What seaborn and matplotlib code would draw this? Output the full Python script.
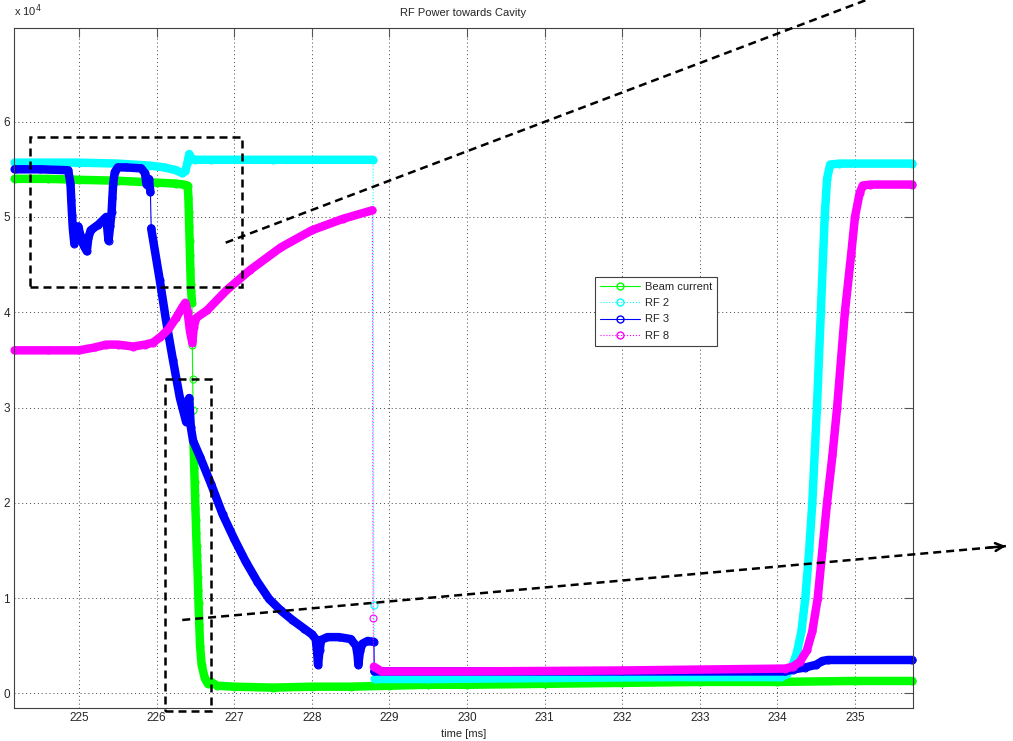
import numpy as np
import pandas as pd
import matplotlib
matplotlib.use("Agg")
import matplotlib.pyplot as plt
from matplotlib.lines import Line2D
from matplotlib.patches import Rectangle
import seaborn as sns

# ---- measured traces: time [ms], power [x 10^4] ----
beam_t = [224.17, 224.6, 225.0, 225.5, 226.0, 226.25, 226.35, 226.40, 226.41, 226.415,
          226.42, 226.425, 226.43, 226.435, 226.44, 226.455, 226.46, 226.465, 226.47,
          226.475, 226.48, 226.485, 226.49, 226.495, 226.50, 226.505, 226.51, 226.515,
          226.52, 226.525, 226.53, 226.535, 226.54, 226.55, 226.56, 226.58, 226.62,
          226.66, 226.70, 226.78, 227.0, 227.5, 228.0, 228.5, 229.0, 229.5, 230.0,
          231.0, 232.0, 233.0, 234.0, 235.0, 235.74]
beam_v = [5.40, 5.40, 5.39, 5.38, 5.36, 5.35, 5.34, 5.33, 5.20, 5.05,
          4.90, 4.75, 4.60, 4.45, 4.30, 4.10, 3.66, 3.30, 2.97,
          2.63, 2.50, 2.36, 2.22, 2.08, 1.95, 1.82, 1.68, 1.55,
          1.45, 1.35, 1.22, 1.08, 0.95, 0.72, 0.50, 0.30, 0.16,
          0.10, 0.12, 0.08, 0.07, 0.06, 0.07, 0.07, 0.08, 0.09, 0.09,
          0.10, 0.11, 0.12, 0.12, 0.13, 0.13]

rf2_t = [224.17, 225.0, 225.5, 225.9, 226.1, 226.25, 226.33, 226.37, 226.40, 226.42,
         226.44, 226.5, 226.7, 227.5, 228.79, 228.80, 228.81, 229.5, 231.0, 232.5,
         234.05, 234.12, 234.19, 234.25, 234.31, 234.36, 234.41, 234.45, 234.51,
         234.56, 234.61, 234.64, 234.68, 234.8, 235.74]
rf2_v = [5.57, 5.57, 5.56, 5.54, 5.52, 5.49, 5.46, 5.48, 5.58, 5.66,
         5.62, 5.60, 5.60, 5.60, 5.60, 0.93, 0.15, 0.15, 0.16, 0.17,
         0.17, 0.20, 0.28, 0.42, 0.65, 1.00, 1.50, 2.00, 3.00,
         4.00, 5.00, 5.40, 5.55, 5.56, 5.56]

rf3_t = [224.17, 224.5, 224.86, 224.89, 224.90, 224.91, 224.92, 224.94, 224.96, 224.99,
         225.02, 225.06, 225.10, 225.12, 225.15, 225.25, 225.35, 225.38, 225.40, 225.42,
         225.43, 225.44, 225.46, 225.50, 225.6, 225.8, 225.85, 225.87, 225.90, 225.92,
         225.93, 226.04, 226.12, 226.21, 226.30, 226.38, 226.40, 226.42, 226.44, 226.47,
         226.56, 226.70, 226.85, 227.0, 227.15, 227.30, 227.45, 227.60, 227.75, 227.90,
         228.0, 228.05, 228.07, 228.08, 228.10, 228.12, 228.2, 228.35, 228.50, 228.57,
         228.59, 228.60, 228.62, 228.65, 228.72, 228.80, 228.805, 230.0, 232.0, 234.1,
         234.2, 234.35, 234.5, 234.58, 234.65, 235.74]
rf3_v = [5.50, 5.50, 5.49, 5.35, 5.18, 5.02, 4.88, 4.72, 4.80, 4.90,
         4.80, 4.70, 4.64, 4.78, 4.86, 4.92, 5.00, 4.75, 4.90, 5.05,
         5.20, 5.35, 5.47, 5.52, 5.52, 5.51, 5.46, 5.34, 5.40, 5.26,
         4.88, 4.34, 3.92, 3.50, 3.10, 2.85, 3.05, 3.10, 2.80, 2.65,
         2.48, 2.20, 1.88, 1.62, 1.38, 1.17, 0.99, 0.87, 0.77, 0.68,
         0.62, 0.57, 0.42, 0.30, 0.45, 0.56, 0.59, 0.59, 0.57, 0.50,
         0.40, 0.30, 0.44, 0.52, 0.55, 0.54, 0.23, 0.23, 0.23, 0.23,
         0.25, 0.27, 0.30, 0.34, 0.35, 0.35]

rf8_t = [224.17, 224.6, 225.0, 225.2, 225.35, 225.5, 225.7, 225.85, 225.95, 226.05,
         226.15, 226.25, 226.33, 226.37, 226.40, 226.43, 226.46, 226.48, 226.51, 226.65,
         226.90, 227.2, 227.6, 228.0, 228.4, 228.78, 228.79, 228.80, 228.9, 230.0,
         232.0, 234.1, 234.2, 234.29, 234.38, 234.45, 234.52, 234.58, 234.64, 234.71,
         234.77, 234.87, 234.95, 235.0, 235.06, 235.10, 235.2, 235.74]
rf8_v = [3.60, 3.60, 3.60, 3.63, 3.66, 3.66, 3.64, 3.66, 3.68, 3.74,
         3.82, 3.94, 4.05, 4.10, 4.00, 3.80, 3.68, 3.85, 3.94, 4.02,
         4.23, 4.44, 4.68, 4.86, 4.98, 5.07, 0.79, 0.28, 0.23, 0.23,
         0.24, 0.26, 0.28, 0.33, 0.45, 0.65, 1.00, 1.50, 2.00, 2.50,
         3.00, 4.00, 4.60, 5.00, 5.25, 5.33, 5.34, 5.34]

labels = ["Beam current", "RF 2", "RF 3", "RF 8"]
colors = ["#00ff00", "#00ffff", "#0000ff", "#ff00ff"]
styles = ["-", ":", "-", ":"]

x_ticks = [225, 226, 227, 228, 229, 230, 231, 232, 233, 234, 235]
y_ticks = [0, 1, 2, 3, 4, 5, 6]

sns.set_style("white")
plt.rcParams["font.family"] = ["Liberation Sans", "DejaVu Sans"]

fig = plt.figure(figsize=(10.13, 7.41), dpi=100)
ax = fig.add_axes([14 / 1013, 1 - 708.3 / 741, (912.7 - 14) / 1013, (708.3 - 28.3) / 741])

JUMP_SLOPE = 35.0  # [x10^4 per ms] steeper steps are drawn as a thin connector only


def draw_trace(t, v, color, ls):
    t = np.asarray(t, dtype=float)
    v = np.asarray(v, dtype=float)
    df = pd.DataFrame({"t": t, "v": v})
    slope = np.abs(np.diff(v)) / np.diff(t)
    df["seg"] = np.concatenate([[0], np.cumsum(slope > JUMP_SLOPE)])
    # dense sampling appears as a thick band
    sns.lineplot(data=df, x="t", y="v", units="seg", estimator=None, sort=False,
                 color=color, lw=6.1, solid_capstyle="round", solid_joinstyle="round",
                 ax=ax, legend=False, clip_on=False)
    # individual samples with hollow circle markers
    sns.lineplot(data=df, x="t", y="v", estimator=None, sort=False,
                 color=color, lw=0.8, linestyle=ls, marker="o", markersize=5,
                 markerfacecolor="none", markeredgecolor=color, markeredgewidth=0.8,
                 ax=ax, legend=False, clip_on=False)


traces = [(beam_t, beam_v), (rf2_t, rf2_v), (rf3_t, rf3_v), (rf8_t, rf8_v)]
for (t, v), c, ls in zip(traces, colors, styles):
    draw_trace(t, v, c, ls)

ax.set_xlim(224.162, 235.744)
ax.set_ylim(-0.157, 6.98)
ax.set_xticks(x_ticks)
ax.set_yticks(y_ticks)
ax.set_xticklabels([str(x) for x in x_ticks])
ax.set_yticklabels([str(y) for y in y_ticks])
ax.set_xlabel("time [ms]", fontsize=8, labelpad=3)
ax.set_ylabel("")
ax.set_title("RF Power towards Cavity", fontsize=8, pad=9)
ax.text(0.0, 1.013, "x 10$^4$", transform=ax.transAxes, fontsize=8,
        ha="left", va="bottom")

ax.grid(True, linestyle=(0, (1, 3)), color="#444444", lw=0.7)
ax.set_axisbelow(True)
ax.tick_params(direction="in", length=6.5, width=0.8, top=True, right=True,
               labelsize=8.5, color="#555555", pad=3)
for sp in ax.spines.values():
    sp.set_color("#404040")
    sp.set_linewidth(0.8)

handles = [Line2D([], [], color=c, ls=ls, lw=0.8, marker="o", mfc="none", mec=c, ms=5)
           for c, ls in zip(colors, styles)]
leg = ax.legend(handles, labels, loc="upper left", bbox_to_anchor=(0.647, 0.634),
                fontsize=8, frameon=True, fancybox=False, edgecolor="#404040",
                framealpha=1, handlelength=3.6, labelspacing=0.55, borderpad=0.45,
                handletextpad=0.4, borderaxespad=0)
leg.get_frame().set_linewidth(0.8)

# dashed zoom boxes and pointer lines
dash = (0, (3.2, 2))
box_a = (224.37, 4.26, 2.73, 1.58)
box_b = (226.11, -0.19, 0.59, 3.49)
for x0, y0, w, h in (box_a, box_b):
    ax.add_patch(Rectangle((x0, y0), w, h, fill=False, ec="black", lw=1.8,
                           linestyle=dash, clip_on=False, zorder=5))

ptr_upper = ([226.89, 235.35], [4.73, 7.34])
ptr_lower = ([226.33, 236.98], [0.77, 1.548])
ax.plot(*ptr_upper, color="black", lw=1.8, linestyle=dash, clip_on=False, zorder=5)
ax.plot(*ptr_lower, color="black", lw=1.8, linestyle=dash, clip_on=False, zorder=5)
ax.annotate("", xy=(ptr_lower[0][1], ptr_lower[1][1]),
            xytext=(ptr_lower[0][1] - 0.3, ptr_lower[1][1] - 0.3 * 0.0731),
            arrowprops=dict(arrowstyle="->", lw=1.8, color="black", mutation_scale=14),
            annotation_clip=False, zorder=5)

fig.savefig("out.png", dpi=100)
